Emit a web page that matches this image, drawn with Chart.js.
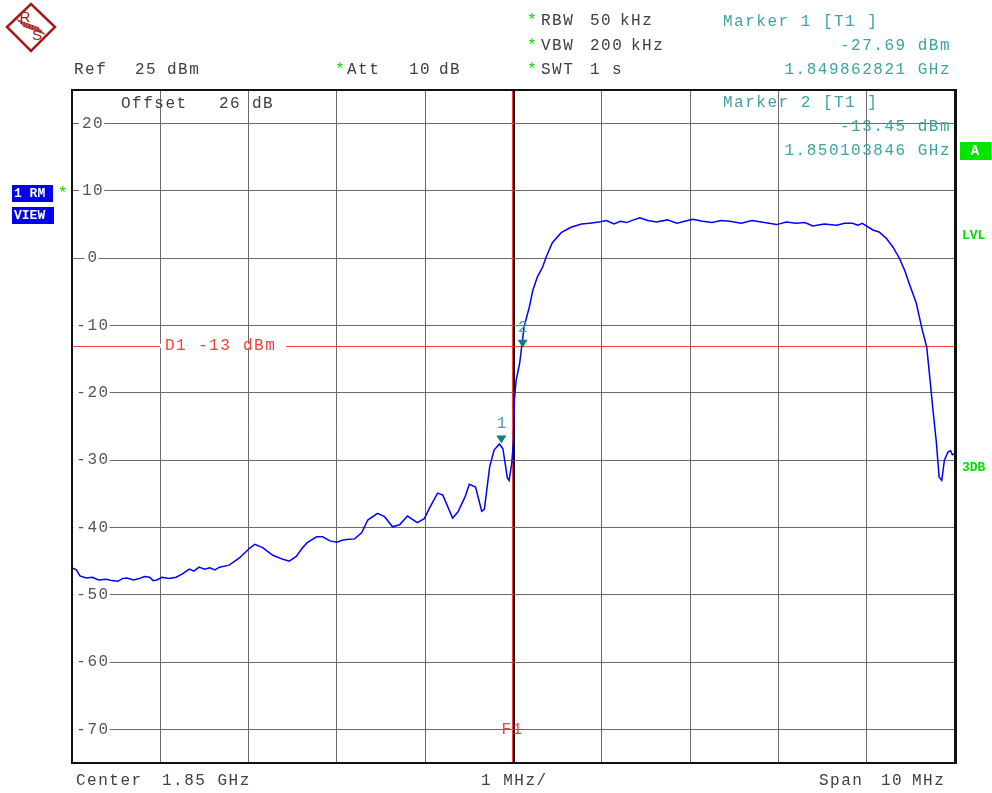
<!DOCTYPE html>
<html>
<head>
<meta charset="utf-8">
<script src="https://cdn.jsdelivr.net/npm/chart.js@4.4.0/dist/chart.umd.min.js"></script>
<style>
html, body { margin: 0; padding: 0; background: #fff; }
canvas { display: block; }
</style>
</head>
<body>
<canvas id="sa" width="992" height="793"></canvas>
<script>
// Trace: offset from centre (MHz) and level (dBm)
const freqOffsetMHz = [
    -5.00, -4.95, -4.91, -4.84, -4.77, -4.70, -4.61, -4.55, -4.48, -4.43, -4.38, -4.30, -4.24, -4.18,
    -4.12, -4.08, -4.04, -3.98, -3.90, -3.82, -3.75, -3.67, -3.62, -3.56, -3.50, -3.44, -3.38, -3.33,
    -3.22, -3.10, -2.99, -2.93, -2.84, -2.73, -2.62, -2.54, -2.46, -2.40, -2.34, -2.23, -2.16, -2.08,
    -2.00, -1.94, -1.89, -1.80, -1.72, -1.65, -1.54, -1.46, -1.37, -1.29, -1.20, -1.09, -1.01, -0.95,
    -0.86, -0.80, -0.69, -0.63, -0.55, -0.50, -0.43, -0.36, -0.33, -0.27, -0.22, -0.16, -0.12, -0.07,
    -0.05, -0.02, 0.00, 0.01, 0.03, 0.07, 0.09, 0.12, 0.18, 0.22, 0.27, 0.33, 0.37, 0.44, 0.54, 0.65,
    0.77, 0.86, 0.97, 1.05, 1.14, 1.21, 1.28, 1.36, 1.43, 1.52, 1.62, 1.74, 1.85, 1.94, 2.03, 2.14,
    2.25, 2.35, 2.45, 2.58, 2.70, 2.84, 2.98, 3.09, 3.20, 3.30, 3.39, 3.52, 3.66, 3.75, 3.84, 3.90,
    3.95, 4.07, 4.14, 4.22, 4.30, 4.37, 4.43, 4.48, 4.56, 4.63, 4.68, 4.71, 4.75, 4.79, 4.82, 4.85,
    4.88, 4.92, 4.95, 4.97, 5.00
];
const traceDbm = [
    -46.0, -46.3, -47.2, -47.5, -47.4, -47.8, -47.7, -47.9, -48.0, -47.6, -47.5, -47.8, -47.6, -47.3,
    -47.4, -47.9, -47.8, -47.4, -47.6, -47.4, -46.9, -46.2, -46.5, -45.9, -46.2, -46.0, -46.3, -45.9,
    -45.6, -44.5, -43.1, -42.5, -43.0, -44.1, -44.7, -45.0, -44.3, -43.2, -42.3, -41.4, -41.4, -42.0,
    -42.2, -41.9, -41.8, -41.7, -40.8, -38.9, -37.9, -38.4, -39.9, -39.6, -38.3, -39.3, -38.7, -37.1,
    -34.9, -35.2, -38.6, -37.7, -35.5, -33.6, -34.0, -37.6, -37.3, -31.0, -28.5, -27.6, -28.3, -32.6,
    -33.0, -30.5, -27.0, -21.0, -18.1, -15.6, -13.4, -10.2, -7.2, -4.7, -2.8, -1.3, 0.2, 2.3, 3.8, 4.6,
    5.1, 5.2, 5.4, 5.6, 5.1, 5.5, 5.3, 5.7, 6.0, 5.6, 5.4, 5.7, 5.2, 5.5, 5.8, 5.5,
    5.3, 5.6, 5.5, 5.2, 5.6, 5.3, 5.0, 5.4, 5.2, 5.3, 4.8, 5.1, 4.9, 5.2, 5.2, 4.9,
    5.2, 4.2, 3.9, 3.0, 1.6, 0.0, -1.8, -3.7, -6.6, -10.7, -13.2, -17.1, -22.5, -27.5, -32.5, -33.0,
    -30.0, -28.8, -28.6, -29.2, -29.0
];

const yTicks = [20, 10, 0, -10, -20, -30, -40, -50, -60, -70];
const xTicks = [-4, -3, -2, -1, 0, 1, 2, 3, 4];
const markerNames = ['1', '2'];
const markerFreqs = [-0.137179, 0.103846];
const markerLevels = [-27.69, -13.45];
const displayLineDbm = -13;

const MONO = '"Liberation Mono", "DejaVu Sans Mono", monospace';
const GREY = '#404040';
const TEAL = '#3fa3a3';
const GREEN = '#00dd00';

function txt(ctx, s, x, y, color, align) {
    ctx.font = '16px ' + MONO;
    ctx.letterSpacing = '1.5px';
    ctx.fillStyle = color;
    ctx.textAlign = align || 'left';
    ctx.textBaseline = 'middle';
    ctx.fillText(s, x, y);
    ctx.letterSpacing = '0px';
}

function drawLogo(ctx) {
    ctx.save();
    ctx.strokeStyle = '#a51c1c';
    ctx.lineWidth = 2.5;
    ctx.beginPath();
    ctx.moveTo(7, 27); ctx.lineTo(31, 4); ctx.lineTo(55, 27); ctx.lineTo(31, 51); ctx.closePath();
    ctx.stroke();
    ctx.lineWidth = 1;
    for (let i = -2; i <= 2; i++) {
        ctx.beginPath();
        ctx.moveTo(20 + i * 1.6, 23 + i * 1.6);
        ctx.lineTo(42 + i * 1.6, 31 + i * 1.6);
        ctx.stroke();
    }
    ctx.fillStyle = '#a51c1c';
    ctx.font = '15px "Liberation Sans", sans-serif';
    ctx.textAlign = 'center';
    ctx.textBaseline = 'middle';
    ctx.fillText('R', 25, 18);
    ctx.fillText('S', 37, 36);
    ctx.restore();
}

const overlay = {
    id: 'overlay',
    beforeDraw(chart) {
        const ctx = chart.ctx;
        ctx.save();
        ctx.fillStyle = '#fff';
        ctx.fillRect(0, 0, chart.width, chart.height);
        ctx.restore();
    },
    beforeDatasetsDraw(chart) {
        const ctx = chart.ctx;
        const a = chart.chartArea;
        const xs = chart.scales.x, ys = chart.scales.y;
        ctx.save();
        // display line D1
        const yd = Math.round(ys.getPixelForValue(displayLineDbm)) + 0.5;
        ctx.strokeStyle = '#ff3b3b';
        ctx.lineWidth = 1;
        ctx.beginPath(); ctx.moveTo(a.left, yd); ctx.lineTo(a.right, yd); ctx.stroke();
        // frequency line F1
        const xf = Math.round(xs.getPixelForValue(0)) - 1.5;
        ctx.beginPath(); ctx.moveTo(xf, a.top); ctx.lineTo(xf, a.bottom); ctx.stroke();
        ctx.restore();
    },
    afterDraw(chart) {
        const ctx = chart.ctx;
        const a = chart.chartArea;
        const xs = chart.scales.x, ys = chart.scales.y;
        ctx.save();

        // level labels inside the grid
        yTicks.forEach(v => {
            const y = ys.getPixelForValue(v);
            const s = String(v);
            ctx.font = '16px ' + MONO;
            ctx.letterSpacing = '1.5px';
            const w = ctx.measureText(s).width;
            ctx.fillStyle = '#fff';
            ctx.fillRect(92 - w / 2 - 2, y - 2, w + 3, 4);
            txt(ctx, s, 93, y, '#555', 'center');
        });

        // D1 label
        const yd = ys.getPixelForValue(displayLineDbm);
        ctx.fillStyle = '#fff';
        ctx.fillRect(160, yd - 2, 126, 4);
        txt(ctx, 'D1', 165, yd, '#ff3b3b');
        txt(ctx, '-13', 198, yd, '#ff3b3b');
        txt(ctx, 'dBm', 243, yd, '#ff3b3b');

        // F1 label
        txt(ctx, 'F1', xs.getPixelForValue(0) - 12, 730, '#ff3b3b');

        // markers
        markerNames.forEach((n, i) => {
            const x = xs.getPixelForValue(markerFreqs[i]);
            const y = ys.getPixelForValue(markerLevels[i]);
            ctx.fillStyle = '#0f7f7f';
            ctx.beginPath();
            ctx.moveTo(x - 5, y - 9); ctx.lineTo(x + 5, y - 9); ctx.lineTo(x, y - 1); ctx.closePath();
            ctx.fill();
            txt(ctx, n, x + 1, y - 21, TEAL, 'center');
        });

        // frame
        ctx.strokeStyle = '#111';
        ctx.lineWidth = 2;
        ctx.beginPath();
        ctx.moveTo(a.left, a.top); ctx.lineTo(a.right, a.top);
        ctx.moveTo(a.left, a.bottom); ctx.lineTo(a.right, a.bottom);
        ctx.moveTo(a.left, a.top - 1); ctx.lineTo(a.left, a.bottom + 1);
        ctx.stroke();
        ctx.lineWidth = 3;
        ctx.beginPath(); ctx.moveTo(a.right + 0.5, a.top - 1); ctx.lineTo(a.right + 0.5, a.bottom + 1); ctx.stroke();

        // header
        drawLogo(ctx);
        txt(ctx, 'Ref', 74, 70, GREY);
        txt(ctx, '25', 135, 70, GREY);
        txt(ctx, 'dBm', 167, 70, GREY);
        txt(ctx, '*', 335, 70, GREEN);
        txt(ctx, 'Att', 347, 70, GREY);
        txt(ctx, '10', 409, 70, GREY);
        txt(ctx, 'dB', 439, 70, GREY);
        txt(ctx, '*', 527, 21, GREEN);
        txt(ctx, 'RBW', 541, 21, GREY);
        txt(ctx, '50', 590, 21, GREY);
        txt(ctx, 'kHz', 620, 21, GREY);
        txt(ctx, '*', 527, 46, GREEN);
        txt(ctx, 'VBW', 541, 46, GREY);
        txt(ctx, '200', 590, 46, GREY);
        txt(ctx, 'kHz', 631, 46, GREY);
        txt(ctx, '*', 527, 70, GREEN);
        txt(ctx, 'SWT', 541, 70, GREY);
        txt(ctx, '1', 590, 70, GREY);
        txt(ctx, 's', 612, 70, GREY);

        txt(ctx, 'Marker 1 [T1 ]', 723, 22, TEAL);
        txt(ctx, '-27.69 dBm', 951, 46, TEAL, 'right');
        txt(ctx, '1.849862821 GHz', 951, 70, TEAL, 'right');
        txt(ctx, 'Marker 2 [T1 ]', 723, 103, TEAL);
        txt(ctx, '-13.45 dBm', 951, 127, TEAL, 'right');
        txt(ctx, '1.850103846 GHz', 951, 151, TEAL, 'right');

        txt(ctx, 'Offset', 121, 104, GREY);
        txt(ctx, '26', 219, 104, GREY);
        txt(ctx, 'dB', 252, 104, GREY);

        // side annotations
        ctx.fillStyle = '#00e600';
        ctx.fillRect(960, 142, 31, 18);
        ctx.font = 'bold 14px ' + MONO;
        ctx.fillStyle = '#fff';
        ctx.textAlign = 'center';
        ctx.fillText('A', 975, 151);
        ctx.font = 'bold 13px ' + MONO;
        ctx.fillStyle = GREEN;
        ctx.textAlign = 'left';
        ctx.fillText('LVL', 962, 236);
        ctx.fillText('3DB', 962, 468);

        ctx.fillStyle = '#0000ee';
        ctx.fillRect(12, 185, 41, 17);
        ctx.fillRect(12, 207, 42, 17);
        ctx.fillStyle = '#fff';
        ctx.font = 'bold 13px ' + MONO;
        ctx.textAlign = 'left';
        ctx.fillText('1 RM', 14, 194);
        ctx.fillText('VIEW', 14, 216);
        txt(ctx, '*', 58, 194, GREEN);

        // footer
        txt(ctx, 'Center', 76, 781, GREY);
        txt(ctx, '1.85 GHz', 162, 781, GREY);
        txt(ctx, '1 MHz/', 481, 781, GREY);
        txt(ctx, 'Span', 819, 781, GREY);
        txt(ctx, '10', 881, 781, GREY);
        txt(ctx, 'MHz', 912, 781, GREY);

        ctx.restore();
    }
};

const points = freqOffsetMHz.map((f, i) => ({ x: f, y: traceDbm[i] }));

new Chart(document.getElementById('sa'), {
    type: 'line',
    data: {
        datasets: [{
            label: 'Trace 1',
            data: points,
            borderColor: '#0000ff',
            borderWidth: 1.5,
            pointRadius: 0,
            tension: 0,
            fill: false
        }]
    },
    options: {
        responsive: false,
        animation: false,
        layout: { padding: { left: 72, right: 37, top: 90, bottom: 30 } },
        plugins: { legend: { display: false }, tooltip: { enabled: false } },
        scales: {
            x: {
                type: 'linear',
                min: -5,
                max: 5,
                afterBuildTicks: s => { s.ticks = xTicks.map(v => ({ value: v })); },
                ticks: { display: false },
                border: { display: false },
                grid: {
                    drawTicks: false,
                    color: c => c.tick && c.tick.value === 0 ? '#000' : '#6a6a6a',
                    lineWidth: c => c.tick && c.tick.value === 0 ? 2 : 1
                }
            },
            y: {
                type: 'linear',
                min: -75,
                max: 25,
                afterBuildTicks: s => { s.ticks = yTicks.map(v => ({ value: v })); },
                ticks: { display: false },
                border: { display: false },
                grid: { drawTicks: false, color: '#6a6a6a', lineWidth: 1 }
            }
        }
    },
    plugins: [overlay]
});
</script>
</body>
</html>
